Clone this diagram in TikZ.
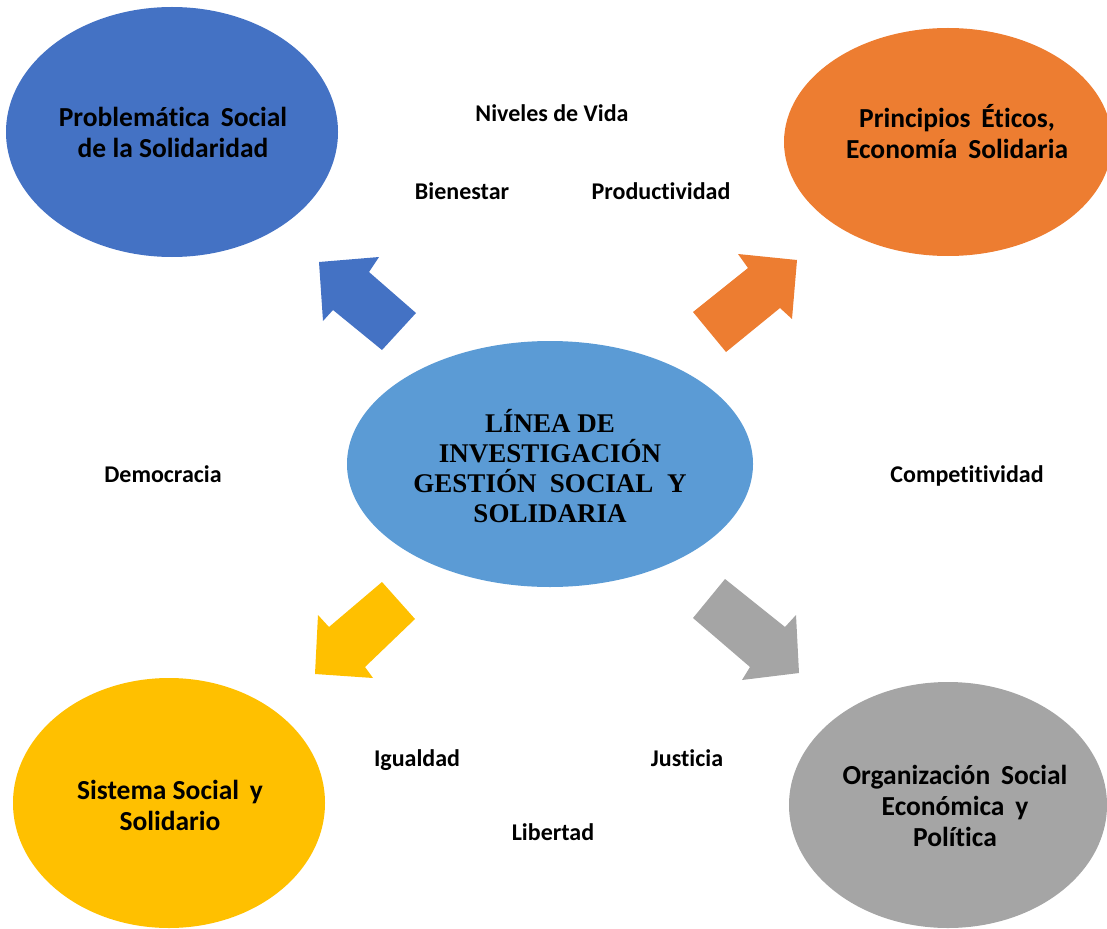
\documentclass[tikz,border=0pt]{standalone}
\usepackage{fontspec}
\usetikzlibrary{shapes.geometric}
\newfontfamily\calfont[Ligatures={NoCommon}]{Carlito}
\newfontfamily\tnrfont{Liberation Serif}
\definecolor{cblue}{HTML}{4472C4}
\definecolor{corange}{HTML}{ED7D31}
\definecolor{cyellow}{HTML}{FFC000}
\definecolor{cgray}{HTML}{A5A5A5}
\definecolor{clight}{HTML}{5B9BD5}
\begin{document}
\begin{tikzpicture}[x=1pt,y=-1pt,
  oval/.style={ellipse,inner sep=0pt,draw=none},
  ovaltext/.style={font=\calfont\bfseries\fontsize{27.5}{31}\selectfont,align=center,text=black,inner sep=0pt},
  lbl/.style={font=\calfont\bfseries\fontsize{24}{28}\selectfont,text=black,inner sep=0pt,anchor=base}]
\useasboundingbox (0,0) rectangle (1107,928);
\clip (0,0) rectangle (1107,928);
% ellipses
\node[oval,fill=cblue,minimum width=332pt,minimum height=250pt] (eA) at (172,132) {};
\node[oval,fill=corange,minimum width=328pt,minimum height=228pt] (eB) at (948,142) {};
\node[oval,fill=clight,minimum width=406pt,minimum height=246pt] (eC) at (550,464) {};
\node[oval,fill=cyellow,minimum width=312pt,minimum height=250pt] (eD) at (169,803) {};
\node[oval,fill=cgray,minimum width=318pt,minimum height=246pt] (eE) at (948,805) {};
% texts in ellipses
\node[ovaltext] (tA) at (173,132) {Problemática\ \,Social\\de la Solidaridad};
\node[ovaltext] (tB) at (957,132) {Principios\ \,Éticos,\\Economía\ \,Solidaria};
\node[ovaltext] (tD) at (170,805) {Sistema Social\ \,y\\Solidario};
\node[ovaltext] (tE) at (955,806) {Organización\ \,Social\\Económica\ \,y\\Política};
\node[font=\tnrfont\bfseries\fontsize{27}{30}\selectfont,align=center,text=black,inner sep=0pt] (tC) at (550,466)
  {LÍNEA DE\\INVESTIGACIÓN\\GESTIÓN\ \ SOCIAL\ \ Y\\SOLIDARIA};
% block arrows
\fill[cblue] (319,262) -- (379,257) -- (369,272) -- (416,313) -- (382,350) -- (333,310) -- (323,321) -- cycle;
\fill[corange] (797,260) -- (792,319) -- (780,308) -- (726,352) -- (693,312) -- (748,268) -- (738,254) -- cycle;
\fill[cyellow] (315,674) -- (318,615) -- (329,627) -- (382,582) -- (415,619) -- (365,667) -- (373,678) -- cycle;
\fill[cgray] (799,673) -- (742,680) -- (750,667) -- (693,618) -- (725,579) -- (785,627) -- (796,615) -- cycle;
% labels
\node[lbl] (l1) at (552,122) {Niveles de Vida};
\node[lbl] (l2) at (462,200) {Bienestar};
\node[lbl] (l3) at (661,200) {Productividad};
\node[lbl] (l4) at (163,482) {Democracia};
\node[lbl] (l5) at (967,482) {Competitividad};
\node[lbl] (l6) at (417,766) {Igualdad};
\node[lbl] (l7) at (687,766) {Justicia};
\node[lbl] (l8) at (553,840) {Libertad};
\end{tikzpicture}
\end{document}
